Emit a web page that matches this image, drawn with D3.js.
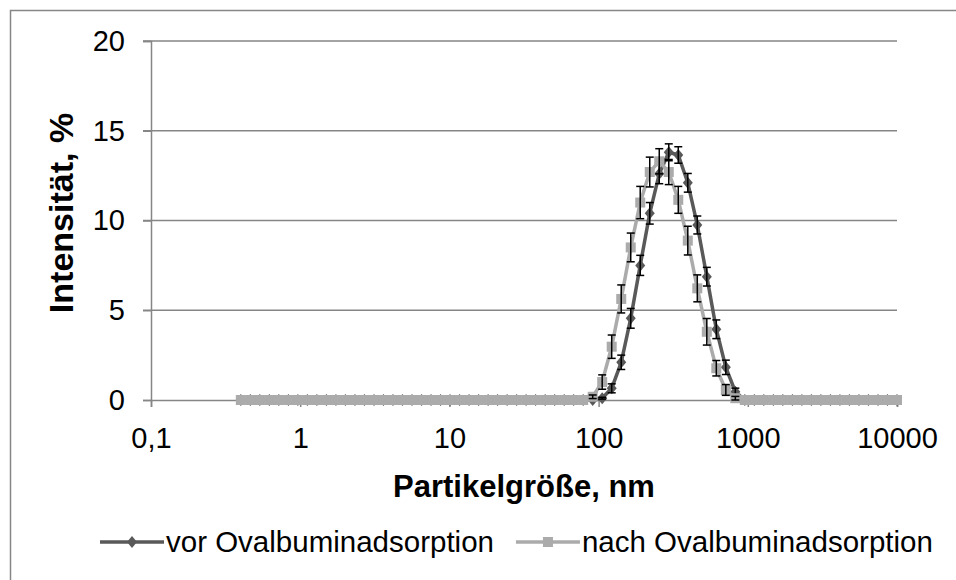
<!DOCTYPE html>
<html>
<head>
<meta charset="utf-8">
<script src="https://cdn.jsdelivr.net/npm/d3@7"></script>
<style>
  body { margin: 0; background: #fff; }
  text { font-family: "Liberation Sans", Arial, sans-serif; fill: #000; }
</style>
</head>
<body>
<svg id="chart" width="956" height="580"></svg>
<script>
// size bins (nm) of the DLS measurement
const sizes = [0.4, 0.4632, 0.5365, 0.6213, 0.7195, 0.8332, 0.9649, 1.117, 1.294, 1.499,
    1.736, 2.01, 2.328, 2.696, 3.122, 3.615, 4.187, 4.849, 5.615, 6.503,
    7.531, 8.721, 10.1, 11.7, 13.54, 15.69, 18.17, 21.04, 24.36, 28.21,
    32.67, 37.84, 43.82, 50.75, 58.77, 68.06, 78.82, 91.28, 105.7, 122.4,
    141.8, 164.2, 190.1, 220.2, 255.0, 295.3, 342.0, 396.1, 458.7, 531.2,
    615.1, 712.4, 825.0, 955.4, 1106, 1281, 1484, 1718, 1990, 2305,
    2669, 3091, 3580, 4145, 4801, 5560, 6439, 7456, 8635, 10000];

// intensity %, vor Ovalbuminadsorption
const vorValues = [0, 0, 0, 0, 0, 0, 0, 0, 0, 0,
    0, 0, 0, 0, 0, 0, 0, 0, 0, 0,
    0, 0, 0, 0, 0, 0, 0, 0, 0, 0,
    0, 0, 0, 0, 0, 0, 0, 0, 0.1, 0.65,
    2.1, 4.55, 7.5, 10.4, 12.6, 13.8, 13.65, 12.1, 9.75, 6.87,
    3.94, 1.82, 0.46, 0, 0, 0, 0, 0, 0, 0,
    0, 0, 0, 0, 0, 0, 0, 0, 0, 0];
const vorErrors = [0, 0, 0, 0, 0, 0, 0, 0, 0, 0,
    0, 0, 0, 0, 0, 0, 0, 0, 0, 0,
    0, 0, 0, 0, 0, 0, 0, 0, 0, 0,
    0, 0, 0, 0, 0, 0, 0, 0, 0.05, 0.25,
    0.4, 0.55, 0.56, 0.6, 0.55, 0.47, 0.46, 0.52, 0.5, 0.52,
    0.52, 0.4, 0.2, 0, 0, 0, 0, 0, 0, 0,
    0, 0, 0, 0, 0, 0, 0, 0, 0, 0];

// intensity %, nach Ovalbuminadsorption
const nachValues = [0, 0, 0, 0, 0, 0, 0, 0, 0, 0,
    0, 0, 0, 0, 0, 0, 0, 0, 0, 0,
    0, 0, 0, 0, 0, 0, 0, 0, 0, 0,
    0, 0, 0, 0, 0, 0, 0, 0.18, 1.0, 2.97,
    5.63, 8.5, 11.0, 12.7, 13.3, 12.7, 11.15, 8.88, 6.22, 3.8,
    1.77, 0.56, 0.1, 0, 0, 0, 0, 0, 0, 0,
    0, 0, 0, 0, 0, 0, 0, 0, 0, 0];
const nachErrors = [0, 0, 0, 0, 0, 0, 0, 0, 0, 0,
    0, 0, 0, 0, 0, 0, 0, 0, 0, 0,
    0, 0, 0, 0, 0, 0, 0, 0, 0, 0,
    0, 0, 0, 0, 0, 0, 0, 0.1, 0.4, 0.65,
    0.78, 0.8, 0.9, 0.83, 0.7, 0.7, 0.75, 0.8, 0.75, 0.74,
    0.43, 0.3, 0.1, 0, 0, 0, 0, 0, 0, 0,
    0, 0, 0, 0, 0, 0, 0, 0, 0, 0];

const xTicks = [0.1, 1, 10, 100, 1000, 10000];
const xTickLabels = ['0,1', '1', '10', '100', '1000', '10000'];
const yTicks = [0, 5, 10, 15, 20];
const seriesNames = ['vor Ovalbuminadsorption', 'nach Ovalbuminadsorption'];

const svg = d3.select('#chart');
const gridColor = '#868686';
const darkColor = '#595959';
const lightColor = '#ababab';

// outer chart frame (runs off the right and bottom edge)
svg.append('rect')
    .attr('x', 10.5).attr('y', 10.5)
    .attr('width', 980).attr('height', 620)
    .attr('fill', 'none').attr('stroke', gridColor).attr('stroke-width', 1.5);

const x = d3.scaleLog().domain([0.1, 10000]).range([151, 897]);
const y = d3.scaleLinear().domain([0, 20]).range([400, 41]);

// horizontal gridlines
svg.append('g').selectAll('line')
    .data(yTicks.filter(d => d > 0))
    .join('line')
    .attr('x1', 143).attr('x2', 897)
    .attr('y1', d => y(d)).attr('y2', d => y(d))
    .attr('stroke', gridColor).attr('stroke-width', 1.5);

// y axis
const yAxis = svg.append('g')
    .attr('transform', 'translate(151,0)')
    .call(d3.axisLeft(y).tickValues(yTicks).tickSize(8).tickPadding(18));
yAxis.select('.domain').attr('stroke', gridColor).attr('stroke-width', 1.5);
yAxis.selectAll('.tick line').attr('stroke', gridColor).attr('stroke-width', 1.5);
yAxis.selectAll('.tick text')
    .style('font-size', '29px').attr('fill', '#000');

// x axis
const xAxis = svg.append('g')
    .attr('transform', 'translate(0,400)')
    .call(d3.axisBottom(x).tickValues(xTicks)
        .tickFormat((d, i) => xTickLabels[i]).tickSize(7).tickPadding(20));
xAxis.select('.domain').attr('stroke', gridColor).attr('stroke-width', 1.5);
xAxis.selectAll('.tick line').attr('stroke', gridColor).attr('stroke-width', 1.5);
xAxis.selectAll('.tick text')
    .style('font-size', '29px').attr('fill', '#000');

// axis titles
svg.append('text')
    .attr('x', 524).attr('y', 497)
    .attr('text-anchor', 'middle')
    .style('font-size', '31px').style('font-weight', 'bold')
    .text('Partikelgröße, nm');

svg.append('text')
    .attr('transform', 'translate(73,213) rotate(-90)')
    .attr('text-anchor', 'middle')
    .style('font-size', '34px').style('font-weight', 'bold')
    .text('Intensität, %');

const diamond = (cx, cy) => `M${cx},${cy - 6}L${cx + 5},${cy}L${cx},${cy + 6}L${cx - 5},${cy}Z`;
const square = (cx, cy) => `M${cx - 5},${cy - 5}h10v10h-10Z`;

//draw one series: line, markers, error bars
const drawSeries = (values, errors, color, marker) => {
    const data = sizes.map((s, i) => ({ s: s, v: values[i], e: errors[i] }));
    const g = svg.append('g');

    g.append('path')
        .datum(data)
        .attr('fill', 'none')
        .attr('stroke', color)
        .attr('stroke-width', 3.5)
        .attr('stroke-linejoin', 'round')
        .attr('d', d3.line().x(d => x(d.s)).y(d => y(d.v)));

    g.selectAll('path.marker')
        .data(data)
        .join('path')
        .attr('class', 'marker')
        .attr('fill', color)
        .attr('d', d => marker(x(d.s), y(d.v)));

    const bars = g.selectAll('g.err')
        .data(data.filter(d => d.e > 0))
        .join('g')
        .attr('class', 'err')
        .attr('stroke', '#000')
        .attr('stroke-width', 1.5);
    bars.append('line')
        .attr('x1', d => x(d.s)).attr('x2', d => x(d.s))
        .attr('y1', d => y(d.v - d.e)).attr('y2', d => y(d.v + d.e));
    bars.append('line')
        .attr('x1', d => x(d.s) - 4).attr('x2', d => x(d.s) + 4)
        .attr('y1', d => y(d.v + d.e)).attr('y2', d => y(d.v + d.e));
    bars.append('line')
        .attr('x1', d => x(d.s) - 4).attr('x2', d => x(d.s) + 4)
        .attr('y1', d => y(d.v - d.e)).attr('y2', d => y(d.v - d.e));
};

drawSeries(vorValues, vorErrors, darkColor, diamond);
drawSeries(nachValues, nachErrors, lightColor, square);

// legend, items laid out one after the other
const legendItems = [
    { name: seriesNames[0], color: darkColor, marker: diamond },
    { name: seriesNames[1], color: lightColor, marker: square }
];
let legendX = 100;
legendItems.forEach(item => {
    const g = svg.append('g').attr('transform', `translate(${legendX},542)`);
    g.append('line')
        .attr('x1', 0).attr('x2', 64)
        .attr('stroke', item.color).attr('stroke-width', 3.5);
    g.append('path')
        .attr('fill', item.color)
        .attr('d', item.marker(32, 0));
    const t = g.append('text')
        .attr('x', 66).attr('y', 10)
        .style('font-size', '29.5px')
        .text(item.name);
    legendX += 66 + t.node().getComputedTextLength() + 22;
});
</script>
</body>
</html>
